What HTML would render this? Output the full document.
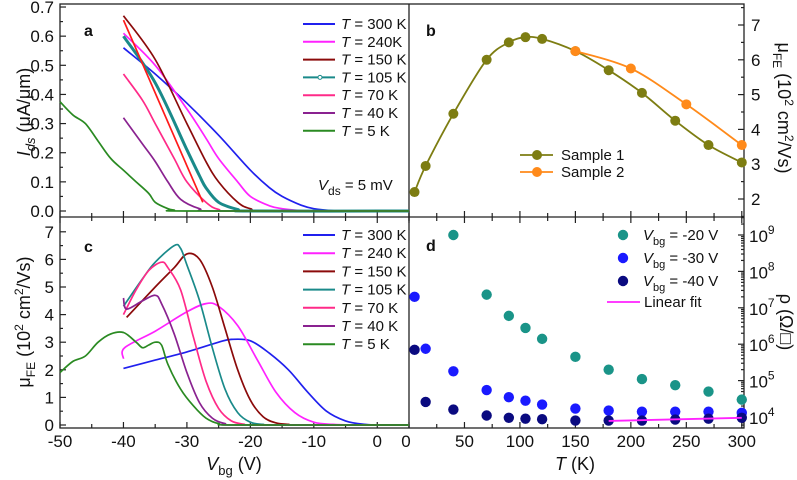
<!DOCTYPE html>
<html><head><meta charset="utf-8">
<style>
body{margin:0;background:#fff;}
svg{display:block;font-family:"Liberation Sans",Arial,sans-serif;}
.tk{font-size:17px;fill:#111;}
.lg{font-size:15px;fill:#111;}
.ttl{font-size:18px;fill:#111;}
.pl{font-size:16px;font-weight:bold;fill:#111;}
</style></head>
<body>
<svg id="fig" width="797" height="480" viewBox="0 0 797 480">
<g id="root"></g>
</svg>
<script>
// ---------- data ----------
const tempsLabelsA = ["300 K","240K","150 K","105 K","70 K","40 K","5 K"];
const tempsLabelsC = ["300 K","240 K","150 K","105 K","70 K","40 K","5 K"];
const curveColors = ["#2020ee","#ff22ff","#8b0a0a","#1a8a8a","#ff2a88","#8a2290","#2a8a22"];
// panel a: Ids vs Vbg  [V, I]
const ids300 = [[-40,0.56],[-35,0.47],[-30,0.37],[-25,0.26],[-20,0.14],[-17,0.08],[-15,0.05],[-12,0.02],[-10,0.008],[-7,0.001],[-5,0],[5,0]];
const ids240 = [[-40,0.61],[-35,0.5],[-30,0.35],[-27,0.25],[-25,0.18],[-22,0.1],[-20,0.05],[-17,0.018],[-15,0.008],[-12,0.001],[-10,0],[5,0]];
const ids150 = [[-40,0.67],[-35,0.52],[-30,0.3],[-27,0.17],[-25,0.1],[-22,0.03],[-20,0.008],[-17,0],[5,0]];
const ids105 = [[-40,0.6],[-35,0.44],[-30,0.21],[-28,0.12],[-27,0.08],[-25,0.03],[-22,0.005],[-20,0],[5,0]];
const ids70 = [[-40,0.47],[-37,0.38],[-35,0.3],[-32,0.18],[-30,0.1],[-27,0.03],[-25,0.005],[-22,0],[5,0]];
const ids40 = [[-40,0.32],[-37,0.23],[-35,0.17],[-33,0.1],[-31,0.04],[-28,0.008],[-25,0],[5,0]];
const ids5 = [[-50,0.375],[-48,0.33],[-46,0.3],[-44,0.24],[-42,0.18],[-40,0.14],[-38,0.1],[-36,0.06],[-35,0.03],[-33,0.008],[-32,0.003],[-30,0],[5,0]];
const fitA = [[-40,0.655],[-27.5,0.03]];
// panel c: mobility vs Vbg
const mu300 = [[-40,2.05],[-35,2.35],[-30,2.65],[-25,3.0],[-23,3.1],[-20,3.05],[-17,2.6],[-14,2.0],[-11,1.2],[-8,0.5],[-5,0.15],[-2,0.02],[0,0],[5,0]];
const mu240 = [[-40,2.4],[-39.8,2.8],[-35,3.4],[-30,4.1],[-27,4.4],[-25,4.3],[-22,3.6],[-19,2.4],[-16,1.2],[-13,0.45],[-10,0.1],[-7,0.02],[-4,0],[5,0]];
const mu150 = [[-39.5,3.9],[-35,5.0],[-32,5.7],[-30,6.2],[-28,6.0],[-26,5.0],[-24,3.5],[-22,2.0],[-20,0.9],[-18,0.3],[-16,0.08],[-14,0.02],[-12,0],[5,0]];
const mu105 = [[-40,4.3],[-37,5.3],[-35,5.9],[-32,6.5],[-31,6.4],[-30,5.8],[-28,4.5],[-26,2.8],[-24,1.3],[-22,0.45],[-20,0.1],[-18,0.02],[-16,0],[5,0]];
const mu70 = [[-40,4.0],[-38,4.9],[-36,5.6],[-34,5.9],[-33,5.7],[-31,4.9],[-29,3.2],[-27,1.6],[-25,0.6],[-23,0.15],[-21,0.03],[-19,0],[5,0]];
const mu40 = [[-40,4.6],[-39.5,4.2],[-37,4.5],[-35,4.7],[-34,4.4],[-32,3.3],[-30,1.9],[-28,0.8],[-26,0.25],[-24,0.05],[-22,0],[5,0]];
const mu5 = [[-50,1.9],[-48,2.3],[-46,2.5],[-44,3.0],[-42,3.3],[-40,3.35],[-38,3.0],[-37,2.8],[-36,2.9],[-35,3.0],[-34,2.9],[-33,2.2],[-31,1.3],[-29,0.7],[-27,0.25],[-25,0.05],[-22,0],[5,0]];
// panel b
const tempsB1 = [5,15,40,70,90,105,120,150,180,210,240,270,300];
const muB1 = [2.2,2.95,4.45,6.0,6.5,6.65,6.6,6.25,5.7,5.05,4.25,3.55,3.05];
const tempsB2 = [150,200,250,300];
const muB2 = [6.25,5.75,4.72,3.55];
// panel d
const tempsD20 = [40,70,90,105,120,150,180,210,240,270,300];
const rho20 = [1e9,2.3e7,6e6,2.8e6,1.4e6,4.5e5,2e5,1.1e5,7.5e4,5e4,3e4];
const tempsD = [5,15,40,70,90,105,120,150,180,210,240,270,300];
const rho30 = [2e7,7.5e5,1.8e5,5.5e4,3.5e4,2.8e4,2.2e4,1.7e4,1.5e4,1.4e4,1.4e4,1.4e4,1.3e4];
const rho40 = [7e5,2.6e4,1.6e4,1.1e4,9.5e3,9e3,8.7e3,8e3,8e3,8e3,8.5e3,9e3,9.5e3];
const fitT = [180,300];
const fitRho = [7.8e3,9.5e3];
const xTicksV = [-50,-40,-30,-20,-10,0];
const yTicksA = ["0.0","0.1","0.2","0.3","0.4","0.5","0.6","0.7"];
const yTicksC = [0,1,2,3,4,5,6,7];
const yTicksB = [2,3,4,5,6,7];
const xTicksT = [0,50,100,150,200,250,300];
const logTicksD = [4,5,6,7,8,9];

// ---------- geometry ----------
const NS="http://www.w3.org/2000/svg";
const root=document.getElementById('root');
function el(tag,attrs,parent,txt){const e=document.createElementNS(NS,tag);for(const k in attrs)e.setAttribute(k,attrs[k]);if(txt!==undefined)e.textContent=txt;(parent||root).appendChild(e);return e;}
const L=60,M=409,R=744,T0=4,MID=217,B=428;
const xV=v=>L+(v+50)*(M-L)/55;
const yA=i=>211-i*291.4;
const yC=m=>425-m*27.6;
const xT=t=>M+t*(R-M)/302;
const yB=m=>199-(m-2)*34.8;
const yD=r=>417-(Math.log10(r)-4)*36.4;
function pathFrom(pts,fx,fy){return pts.map((p,i)=>(i?'L':'M')+fx(p[0]).toFixed(1)+','+fy(p[1]).toFixed(1)).join(' ');}
function smooth(xs,ys){ // catmull-rom
 let d='M'+xs[0]+','+ys[0];
 for(let i=0;i<xs.length-1;i++){
  const x0=xs[Math.max(i-1,0)],y0=ys[Math.max(i-1,0)],x1=xs[i],y1=ys[i],x2=xs[i+1],y2=ys[i+1],x3=xs[Math.min(i+2,xs.length-1)],y3=ys[Math.min(i+2,xs.length-1)];
  d+=' C'+(x1+(x2-x0)/6).toFixed(1)+','+(y1+(y2-y0)/6).toFixed(1)+' '+(x2-(x3-x1)/6).toFixed(1)+','+(y2-(y3-y1)/6).toFixed(1)+' '+x2.toFixed(1)+','+y2.toFixed(1);
 }
 return d;
}

// frames
const frame=el('g',{});


el('rect',{x:L,y:T0,width:R-L,height:B-T0,fill:'none',stroke:'#222','stroke-width':1.3},frame);
el('line',{x1:L,y1:MID,x2:R,y2:MID,stroke:'#222','stroke-width':1.3},frame);
el('line',{x1:M,y1:T0,x2:M,y2:B,stroke:'#222','stroke-width':1.3},frame);

// ticks
const ticks=el('g',{stroke:'#222','stroke-width':1.2});


for(let v=-50;v<=5;v+=5){const x=xV(v),mj=v%10===0;
 el('line',{x1:x,y1:MID-(mj?6:4),x2:x,y2:MID+(mj?6:4)},ticks);
 el('line',{x1:x,y1:B,x2:x,y2:B-(mj?6:4)},ticks);}
for(let t=0;t<=300;t+=25){const x=xT(t),mj=t%50===0;
 el('line',{x1:x,y1:MID-(mj?6:4),x2:x,y2:MID+(mj?6:4)},ticks);
 el('line',{x1:x,y1:B,x2:x,y2:B-(mj?6:4)},ticks);}
for(let i=0;i<=14;i++){const y=yA(i*0.05);if(y<T0)continue;el('line',{x1:L,y1:y,x2:L+(i%2?3:6),y2:y},ticks);}
for(let i=0;i<=14;i++){const y=yC(i*0.5);el('line',{x1:L,y1:y,x2:L+(i%2?3:6),y2:y},ticks);}
for(let i=3;i<=15;i++){const y=yB(i*0.5);if(y<T0||y>MID)continue;el('line',{x1:R,y1:y,x2:R-(i%2?3:6),y2:y},ticks);}
for(let d=3;d<=9;d++){for(let k=1;k<10;k++){const y=yD(k*Math.pow(10,d));if(y<MID||y>B)continue;el('line',{x1:R,y1:y,x2:R-(k===1?6:3),y2:y},ticks);}}

// tick labels
const tl=el('g',{class:'tk'});


xTicksV.forEach(v=>el('text',{x:xV(v),y:447,'text-anchor':'middle'},tl,String(v)));
xTicksT.forEach(t=>el('text',{x:xT(t)+(t===0?-3:0),y:447,'text-anchor':'middle'},tl,String(t)));
yTicksA.forEach((s,i)=>el('text',{x:54,y:yA(i*0.1)+6,'text-anchor':'end'},tl,s));
yTicksC.forEach(m=>el('text',{x:54,y:yC(m)+6,'text-anchor':'end'},tl,String(m)));
yTicksB.forEach(m=>el('text',{x:751,y:yB(m)+6},tl,String(m)));
logTicksD.forEach(p=>{const t=el('text',{x:749,y:yD(Math.pow(10,p))+7},tl,'10');el('tspan',{dy:-8,'font-size':12},t,String(p));});

// axis titles
const at=el('g',{class:'ttl'});


let t1=el('text',{transform:'translate(30,112) rotate(-90)','text-anchor':'middle'},at);
el('tspan',{'font-style':'italic'},t1,'I');el('tspan',{'font-size':13,dy:5,'font-style':'italic'},t1,'ds');el('tspan',{dy:-5},t1,' (μA/μm)');
let t2=el('text',{transform:'translate(30,322) rotate(-90)','text-anchor':'middle'},at);
el('tspan',{},t2,'μ');el('tspan',{'font-size':12,dy:5},t2,'FE');el('tspan',{dy:-5},t2,' (10');el('tspan',{'font-size':12,dy:-7},t2,'2');el('tspan',{dy:7},t2,' cm');el('tspan',{'font-size':12,dy:-7},t2,'2');el('tspan',{dy:7},t2,'/Vs)');
let t3=el('text',{transform:'translate(778,108) rotate(90)','text-anchor':'middle'},at);
el('tspan',{},t3,'μ');el('tspan',{'font-size':12,dy:5},t3,'FE');el('tspan',{dy:-5},t3,' (10');el('tspan',{'font-size':12,dy:-7},t3,'2');el('tspan',{dy:7},t3,' cm');el('tspan',{'font-size':12,dy:-7},t3,'2');el('tspan',{dy:7},t3,'/Vs)');
el('text',{transform:'translate(780,322) rotate(90)','text-anchor':'middle'},at,'ρ (Ω/□)');
let t4=el('text',{x:234,y:470,'text-anchor':'middle'},at);
el('tspan',{'font-style':'italic'},t4,'V');el('tspan',{'font-size':13,dy:5},t4,'bg');el('tspan',{dy:-5},t4,' (V)');
let t5=el('text',{x:575,y:470,'text-anchor':'middle'},at);
el('tspan',{'font-style':'italic'},t5,'T');el('tspan',{},t5,' (K)');

// panel labels
[['a',84,36],['b',426,36],['c',84,252],['d',426,251]].forEach(p=>{const e=el('text',{x:p[1],y:p[2],class:'pl'},root,p[0]);});

// panel a curves
const aSets=[ids300,ids240,ids150,ids105,ids70,ids40,ids5];
const gA=el('g',{fill:'none','stroke-width':1.7});


aSets.forEach((s,i)=>{const p=el('path',{d:smooth(s.map(q=>xV(q[0])),s.map(q=>yA(q[1]))),stroke:curveColors[i],'stroke-width':i===3?3:1.7},gA);
 
 });
const fa=el('path',{d:pathFrom(fitA,xV,yA),stroke:'#ff1a1a','stroke-width':1.7},gA);



// panel c curves
const cSets=[mu300,mu240,mu150,mu105,mu70,mu40,mu5];
const gC=el('g',{fill:'none','stroke-width':1.7});


cSets.forEach((s,i)=>{const p=el('path',{d:smooth(s.map(q=>xV(q[0])),s.map(q=>yC(q[1]))),stroke:curveColors[i]},gC);
 
 });

// legends a & c
function legendT(labels,y0,dy,name){
 const g=el('g',{class:'lg'});
 
 
 labels.forEach((lab,i)=>{const y=y0+i*dy;
  el('line',{x1:303,y1:y,x2:335,y2:y,stroke:curveColors[i],'stroke-width':2},g);
  if(name==='legend-a'&&i===3)el('circle',{cx:320,cy:y,r:2,fill:'#fff',stroke:curveColors[i]},g);
  const t=el('text',{x:341,y:y+5},g);el('tspan',{'font-style':'italic'},t,'T');el('tspan',{},t,' = '+lab);});
}
legendT(tempsLabelsA,24,17.8,'legend-a');
legendT(tempsLabelsC,235,18.2,'legend-c');
let vds=el('text',{x:318,y:190,class:'lg','font-size':17});


el('tspan',{'font-style':'italic'},vds,'V');el('tspan',{'font-size':12,dy:5},vds,'ds');el('tspan',{dy:-5},vds,' = 5 mV');

// panel b
function seriesB(ts,ms,color,name){
 const g=el('g',{});
 
 
 el('path',{d:smooth(ts.map(xT),ms.map(yB)),fill:'none',stroke:color,'stroke-width':1.8},g);
 ts.forEach((t,i)=>{const c=el('circle',{cx:xT(t),cy:yB(ms[i]),r:5,fill:color},g);
  
  });
}
seriesB(tempsB1,muB1,'#7d7d12','sample-1-series');
seriesB(tempsB2,muB2,'#ff8a1a','sample-2-series');
const lgB=el('g',{class:'lg'});


[['Sample 1','#7d7d12',155],['Sample 2','#ff8a1a',172]].forEach(r=>{
 el('line',{x1:520,y1:r[2],x2:553,y2:r[2],stroke:r[1],'stroke-width':1.8},lgB);
 el('circle',{cx:537,cy:r[2],r:5,fill:r[1]},lgB);
 el('text',{x:561,y:r[2]+5},lgB,r[0]);});

// panel d
function seriesD(ts,rs,color,name){
 const g=el('g',{});
 
 
 ts.forEach((t,i)=>{const c=el('circle',{cx:xT(t),cy:yD(rs[i]),r:5.2,fill:color},g);
  
  });
}
const dCols=['#1a9488','#1a1aff','#0a0a80'];
seriesD(tempsD20,rho20,dCols[0],'rho-vbg-20');
seriesD(tempsD,rho30,dCols[1],'rho-vbg-30');
seriesD(tempsD,rho40,dCols[2],'rho-vbg-40');
const fd=el('line',{x1:xT(fitT[0]),y1:yD(fitRho[0]),x2:xT(fitT[1]),y2:yD(fitRho[1]),stroke:'#ff22ff','stroke-width':1.8});


const lgD=el('g',{class:'lg'});


['-20 V','-30 V','-40 V'].forEach((s,i)=>{const y=235+i*23;
 el('circle',{cx:623,cy:y,r:5.2,fill:dCols[i]},lgD);
 const t=el('text',{x:643,y:y+5},lgD);el('tspan',{'font-style':'italic'},t,'V');el('tspan',{'font-size':11,dy:5},t,'bg');el('tspan',{dy:-5},t,' = '+s);});
el('line',{x1:607,y1:302,x2:640,y2:302,stroke:'#ff22ff','stroke-width':1.8},lgD);
el('text',{x:644,y:307},lgD,'Linear fit');
</script>
</body></html>
